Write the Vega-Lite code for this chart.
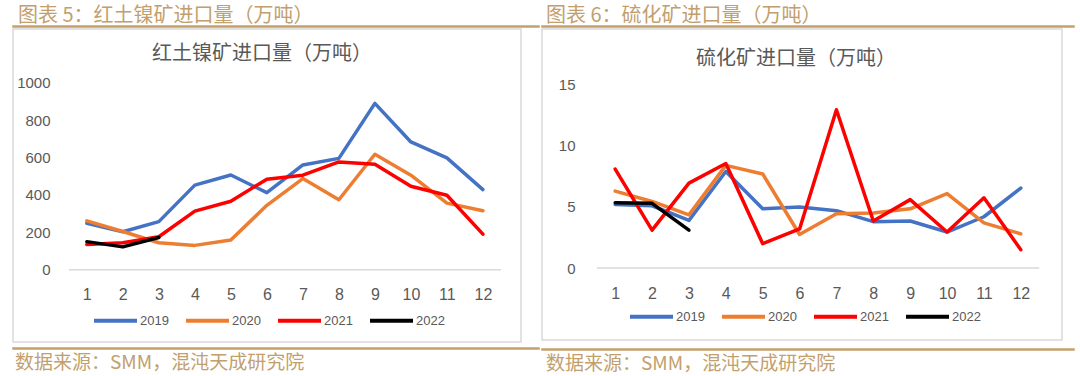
{
  "$schema": "https://vega.github.io/schema/vega-lite/v6.json",
  "padding": {"left": 12, "top": 5, "right": 0, "bottom": 0},
  "background": "white",
  "datasets": {
    "nickel": [
      {"m": 1, "year": "2019", "v": 248}, {"m": 2, "year": "2019", "v": 203}, {"m": 3, "year": "2019", "v": 257},
      {"m": 4, "year": "2019", "v": 452}, {"m": 5, "year": "2019", "v": 506}, {"m": 6, "year": "2019", "v": 412},
      {"m": 7, "year": "2019", "v": 560}, {"m": 8, "year": "2019", "v": 595}, {"m": 9, "year": "2019", "v": 889},
      {"m": 10, "year": "2019", "v": 683}, {"m": 11, "year": "2019", "v": 598}, {"m": 12, "year": "2019", "v": 428},
      {"m": 1, "year": "2020", "v": 261}, {"m": 2, "year": "2020", "v": 204}, {"m": 3, "year": "2020", "v": 144},
      {"m": 4, "year": "2020", "v": 130}, {"m": 5, "year": "2020", "v": 159}, {"m": 6, "year": "2020", "v": 344},
      {"m": 7, "year": "2020", "v": 487}, {"m": 8, "year": "2020", "v": 374}, {"m": 9, "year": "2020", "v": 617},
      {"m": 10, "year": "2020", "v": 505}, {"m": 11, "year": "2020", "v": 356}, {"m": 12, "year": "2020", "v": 315},
      {"m": 1, "year": "2021", "v": 135}, {"m": 2, "year": "2021", "v": 144}, {"m": 3, "year": "2021", "v": 176},
      {"m": 4, "year": "2021", "v": 313}, {"m": 5, "year": "2021", "v": 366}, {"m": 6, "year": "2021", "v": 484},
      {"m": 7, "year": "2021", "v": 505}, {"m": 8, "year": "2021", "v": 576}, {"m": 9, "year": "2021", "v": 564},
      {"m": 10, "year": "2021", "v": 446}, {"m": 11, "year": "2021", "v": 398}, {"m": 12, "year": "2021", "v": 190},
      {"m": 1, "year": "2022", "v": 150}, {"m": 2, "year": "2022", "v": 122}, {"m": 3, "year": "2022", "v": 172}
    ],
    "sulfide": [
      {"m": 1, "year": "2019", "v": 5.2}, {"m": 2, "year": "2019", "v": 5.1}, {"m": 3, "year": "2019", "v": 3.9},
      {"m": 4, "year": "2019", "v": 7.9}, {"m": 5, "year": "2019", "v": 4.85}, {"m": 6, "year": "2019", "v": 5.0},
      {"m": 7, "year": "2019", "v": 4.7}, {"m": 8, "year": "2019", "v": 3.8}, {"m": 9, "year": "2019", "v": 3.85},
      {"m": 10, "year": "2019", "v": 2.95}, {"m": 11, "year": "2019", "v": 4.2}, {"m": 12, "year": "2019", "v": 6.55},
      {"m": 1, "year": "2020", "v": 6.3}, {"m": 2, "year": "2020", "v": 5.45}, {"m": 3, "year": "2020", "v": 4.35},
      {"m": 4, "year": "2020", "v": 8.4}, {"m": 5, "year": "2020", "v": 7.7}, {"m": 6, "year": "2020", "v": 2.75},
      {"m": 7, "year": "2020", "v": 4.45}, {"m": 8, "year": "2020", "v": 4.5}, {"m": 9, "year": "2020", "v": 4.85},
      {"m": 10, "year": "2020", "v": 6.1}, {"m": 11, "year": "2020", "v": 3.7}, {"m": 12, "year": "2020", "v": 2.8},
      {"m": 1, "year": "2021", "v": 8.1}, {"m": 2, "year": "2021", "v": 3.1}, {"m": 3, "year": "2021", "v": 6.95},
      {"m": 4, "year": "2021", "v": 8.55}, {"m": 5, "year": "2021", "v": 2.0}, {"m": 6, "year": "2021", "v": 3.2},
      {"m": 7, "year": "2021", "v": 12.95}, {"m": 8, "year": "2021", "v": 3.85}, {"m": 9, "year": "2021", "v": 5.6},
      {"m": 10, "year": "2021", "v": 2.95}, {"m": 11, "year": "2021", "v": 5.75}, {"m": 12, "year": "2021", "v": 1.5},
      {"m": 1, "year": "2022", "v": 5.35}, {"m": 2, "year": "2022", "v": 5.3}, {"m": 3, "year": "2022", "v": 3.1}
    ]
  },
  "hconcat": [
    {
      "spacing": 0,
      "vconcat": [
        {
          "width": 526, "height": 1,
          "view": {"stroke": "#c4a06a", "strokeWidth": 1.5},
          "title": {"text": "图表 5：红土镍矿进口量（万吨）", "anchor": "start", "dx": 5, "offset": 0, "color": "#c2a06e", "fontSize": 20, "font": "Noto Sans CJK SC", "fontWeight": "normal"},
          "data": {"values": []},
          "mark": {"type": "text"},
          "encoding": {"text": {"value": ""}}
        },
        {
          "spacing": 4,
          "vconcat": [
            {
              "width": 508, "height": 313,
              "view": {"stroke": "#d9d9d9", "strokeWidth": 1.5},
              "title": {"text": "红土镍矿进口量（万吨）", "offset": -35, "baseline": "top", "dx": -5, "color": "#595959", "fontSize": 20, "font": "Noto Sans CJK SC", "fontWeight": "normal"},
              "layer": [
                {
                  "data": {"values": [{}]},
                  "mark": {"type": "rule", "color": "#d9d9d9", "strokeWidth": 1.5},
                  "encoding": {
                    "x": {"datum": 0.5, "type": "quantitative", "scale": {"domain": [-1.05, 13.058], "nice": false, "zero": false}},
                    "x2": {"datum": 12.5},
                    "y": {"datum": 0, "type": "quantitative", "scale": {"domain": [-386.5, 1286.7], "nice": false, "zero": false}}
                  }
                },
                {
                  "data": {"name": "nickel"},
                  "mark": {"type": "line", "strokeWidth": 3.5, "strokeJoin": "round", "strokeCap": "round"},
                  "encoding": {
                    "x": {"field": "m", "type": "quantitative", "scale": {"domain": [-1.05, 13.058], "nice": false, "zero": false},
                      "axis": {"values": [1,2,3,4,5,6,7,8,9,10,11,12], "format": "d", "title": null, "grid": false, "domain": false, "ticks": false, "tickSize": 0, "labelPadding": 0, "offset": -48, "labelBaseline": "middle", "labelFontSize": 16, "labelColor": "#595959", "labelFont": "Liberation Sans"}},
                    "y": {"field": "v", "type": "quantitative", "scale": {"domain": [-386.5, 1286.7], "nice": false, "zero": false},
                      "axis": {"values": [0,200,400,600,800,1000], "format": "d", "title": null, "grid": false, "domain": false, "ticks": false, "tickSize": 0, "labelPadding": 0, "offset": -37, "labelFontSize": 15, "labelColor": "#595959", "labelFont": "Liberation Sans"}},
                    "color": {"field": "year", "type": "nominal",
                      "scale": {"domain": ["2019","2020","2021","2022"], "range": ["#4472C4","#ED7D31","#FF0000","#000000"]},
                      "legend": {"title": null, "orient": "none", "direction": "horizontal", "legendX": 79, "legendY": 271, "symbolType": "stroke", "symbolSize": 1849, "symbolStrokeWidth": 4, "labelOffset": 1, "columnPadding": 9, "labelFontSize": 13, "labelColor": "#595959", "labelFont": "Liberation Sans", "padding": 0}}
                  }
                }
              ]
            },
            {
              "width": 526, "height": 1,
              "view": {"stroke": "#c4a06a", "strokeWidth": 1.5},
              "title": {"text": "数据来源：SMM，混沌天成研究院", "orient": "bottom", "anchor": "start", "dx": 2, "offset": 5, "color": "#c2a06e", "fontSize": 19, "font": "Noto Sans CJK SC", "fontWeight": "normal"},
              "data": {"values": []},
              "mark": {"type": "text"},
              "encoding": {"text": {"value": ""}}
            }
          ]
        }
      ]
    },
    {
      "spacing": 0,
      "vconcat": [
        {
          "width": 532, "height": 1,
          "view": {"stroke": "#c4a06a", "strokeWidth": 1.5},
          "title": {"text": "图表 6：硫化矿进口量（万吨）", "anchor": "start", "dx": 4, "offset": 0, "color": "#c2a06e", "fontSize": 20, "font": "Noto Sans CJK SC", "fontWeight": "normal"},
          "data": {"values": []},
          "mark": {"type": "text"},
          "encoding": {"text": {"value": ""}}
        },
        {
          "spacing": 7,
          "vconcat": [
            {
              "width": 520, "height": 311,
              "view": {"stroke": "#d9d9d9", "strokeWidth": 1.5},
              "title": {"text": "硫化矿进口量（万吨）", "offset": -40, "baseline": "top", "dx": -6, "color": "#595959", "fontSize": 20, "font": "Noto Sans CJK SC", "fontWeight": "normal"},
              "layer": [
                {
                  "data": {"values": [{}]},
                  "mark": {"type": "rule", "color": "#d9d9d9", "strokeWidth": 1.5},
                  "encoding": {
                    "x": {"datum": 0.5, "type": "quantitative", "scale": {"domain": [-0.985, 13.117], "nice": false, "zero": false}},
                    "x2": {"datum": 12.5},
                    "y": {"datum": 0, "type": "quantitative", "scale": {"domain": [-5.88, 19.556], "nice": false, "zero": false}}
                  }
                },
                {
                  "data": {"name": "sulfide"},
                  "mark": {"type": "line", "strokeWidth": 3.5, "strokeJoin": "round", "strokeCap": "round"},
                  "encoding": {
                    "x": {"field": "m", "type": "quantitative", "scale": {"domain": [-0.985, 13.117], "nice": false, "zero": false},
                      "axis": {"values": [1,2,3,4,5,6,7,8,9,10,11,12], "format": "d", "title": null, "grid": false, "domain": false, "ticks": false, "tickSize": 0, "labelPadding": 0, "offset": -47, "labelBaseline": "middle", "labelFontSize": 16, "labelColor": "#595959", "labelFont": "Liberation Sans"}},
                    "y": {"field": "v", "type": "quantitative", "scale": {"domain": [-5.88, 19.556], "nice": false, "zero": false},
                      "axis": {"values": [0,5,10,15], "format": "d", "title": null, "grid": false, "domain": false, "ticks": false, "tickSize": 0, "labelPadding": 0, "offset": -33, "labelFontSize": 15, "labelColor": "#595959", "labelFont": "Liberation Sans"}},
                    "color": {"field": "year", "type": "nominal",
                      "scale": {"domain": ["2019","2020","2021","2022"], "range": ["#4472C4","#ED7D31","#FF0000","#000000"]},
                      "legend": {"title": null, "orient": "none", "direction": "horizontal", "legendX": 86, "legendY": 267, "symbolType": "stroke", "symbolSize": 1849, "symbolStrokeWidth": 4, "labelOffset": 1, "columnPadding": 9, "labelFontSize": 13, "labelColor": "#595959", "labelFont": "Liberation Sans", "padding": 0}}
                  }
                }
              ]
            },
            {
              "width": 532, "height": 1,
              "view": {"stroke": "#c4a06a", "strokeWidth": 1.5},
              "title": {"text": "数据来源：SMM，混沌天成研究院", "orient": "bottom", "anchor": "start", "dx": 4, "offset": 5, "color": "#c2a06e", "fontSize": 19, "font": "Noto Sans CJK SC", "fontWeight": "normal"},
              "data": {"values": []},
              "mark": {"type": "text"},
              "encoding": {"text": {"value": ""}}
            }
          ]
        }
      ]
    }
  ],
  "spacing": 1,
  "resolve": {"scale": {"color": "independent"}},
  "config": {"view": {"stroke": null}}
}
